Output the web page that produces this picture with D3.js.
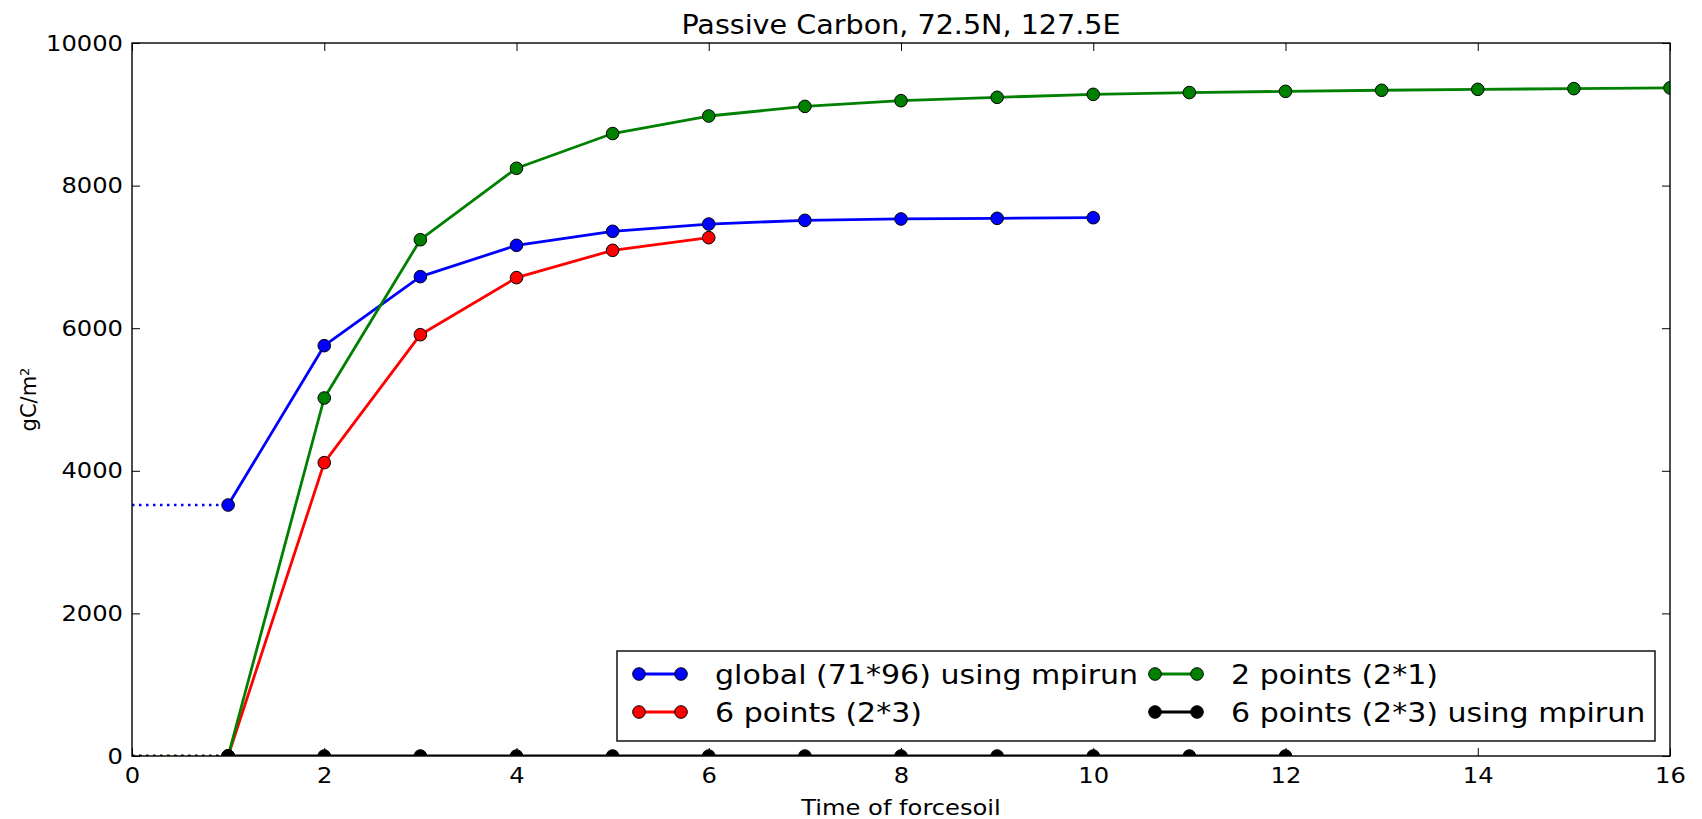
<!DOCTYPE html>
<html>
<head>
<meta charset="utf-8">
<script src="https://cdn.jsdelivr.net/npm/d3@7"></script>
<style>
  body { margin: 0; background: #ffffff; }
  text { font-family: "DejaVu Sans", sans-serif; }
</style>
</head>
<body>
<div id="canvas"></div>
<script>
"use strict"

/* Data */
let xTicks = [0, 2, 4, 6, 8, 10, 12, 14, 16];
let yTicks = [0, 2000, 4000, 6000, 8000, 10000];

let globalX = [1, 2, 3, 4, 5, 6, 7, 8, 9, 10];
let globalY = [3520, 5755, 6723, 7162, 7359, 7461, 7513, 7532, 7541, 7550];

let sixX = [1, 2, 3, 4, 5, 6];
let sixY = [0, 4114, 5909, 6709, 7092, 7270];

let twoX = [1, 2, 3, 4, 5, 6, 7, 8, 9, 10, 11, 12, 13, 14, 15, 16];
let twoY = [0, 5021, 7241, 8243, 8730, 8976, 9111, 9191, 9238, 9280, 9305, 9322, 9337, 9350, 9360, 9370];

let sixMpiX = [1, 2, 3, 4, 5, 6, 7, 8, 9, 10, 11, 12];
let sixMpiY = [0, 0, 0, 0, 0, 0, 0, 0, 0, 0, 0, 0];

let seriesNames = [
    "global (71*96) using mpirun",
    "6 points (2*3)",
    "2 points (2*1)",
    "6 points (2*3) using mpirun"
];
let seriesColors = ["#0000ff", "#ff0000", "#008000", "#000000"];

/* Build the series list from the arrays above */
let series = [
    { name: seriesNames[0], color: seriesColors[0], xs: globalX, ys: globalY },
    { name: seriesNames[1], color: seriesColors[1], xs: sixX, ys: sixY },
    { name: seriesNames[2], color: seriesColors[2], xs: twoX, ys: twoY },
    { name: seriesNames[3], color: seriesColors[3], xs: sixMpiX, ys: sixMpiY }
];

/* Drawing config */
let svgWidth = 1702;
let svgHeight = 819;
let margin = { top: 43, right: 32, bottom: 63, left: 132 };
let chartWidth = svgWidth - margin.left - margin.right;
let chartHeight = svgHeight - margin.top - margin.bottom;
let textStretch = 1.1; // the original's glyphs are a bit wider than DejaVu at the same height
let lineWidth = 2.8;
let markerR = 6.3;

let svg = d3.select("#canvas")
    .append("svg")
    .attr("width", svgWidth)
    .attr("height", svgHeight);

/* Move a text's x/y into a transform so it can be stretched sideways */
function stretchText(sel) {
    sel.each(function() {
        let t = d3.select(this);
        let x = +t.attr("x") || 0;
        let y = +t.attr("y") || 0;
        t.attr("x", 0).attr("y", 0)
            .attr("transform", "translate(" + x + "," + y + ") scale(" + textStretch + ",1)");
    });
}

let xScale = d3.scaleLinear()
    .domain([0, 16])
    .range([margin.left, margin.left + chartWidth]);

let yScale = d3.scaleLinear()
    .domain([0, 10000])
    .range([margin.top + chartHeight, margin.top]);

// clip so markers on the edges are cut like in the original
svg.append("clipPath")
    .attr("id", "plotClip")
    .append("rect")
    .attr("x", margin.left)
    .attr("y", margin.top)
    .attr("width", chartWidth)
    .attr("height", chartHeight);

let plot = svg.append("g").attr("clip-path", "url(#plotClip)");

let line = d3.line()
    .x(function(d) { return xScale(d[0]); })
    .y(function(d) { return yScale(d[1]); });

/* Lines, dotted lead-in from x=0, and markers */
series.forEach(function(s) {
    let pts = s.xs.map(function(x, i) { return [x, s.ys[i]]; });

    plot.append("path")
        .attr("d", line([[0, s.ys[0]], pts[0]]))
        .attr("fill", "none")
        .attr("stroke", s.color)
        .attr("stroke-width", 2.5)
        .attr("stroke-dasharray", "2.5,4.5");

    plot.append("path")
        .attr("d", line(pts))
        .attr("fill", "none")
        .attr("stroke", s.color)
        .attr("stroke-width", lineWidth)
        .attr("stroke-linejoin", "round");

    plot.selectAll(null)
        .data(pts)
        .join("circle")
        .attr("cx", function(d) { return xScale(d[0]); })
        .attr("cy", function(d) { return yScale(d[1]); })
        .attr("r", markerR)
        .attr("fill", s.color)
        .attr("stroke", "black")
        .attr("stroke-width", 1);
});

/* Axes: inward ticks on all four sides */
svg.append("g")
    .attr("transform", "translate(0," + (margin.top + chartHeight) + ")")
    .call(d3.axisBottom(xScale).tickValues(xTicks).tickSize(-8).tickPadding(11));
svg.append("g")
    .attr("transform", "translate(" + margin.left + ",0)")
    .call(d3.axisLeft(yScale).tickValues(yTicks).tickFormat(d3.format("d")).tickSize(-8).tickPadding(9));
svg.append("g")
    .attr("transform", "translate(0," + margin.top + ")")
    .call(d3.axisTop(xScale).tickValues(xTicks).tickSize(-8).tickFormat(""));
svg.append("g")
    .attr("transform", "translate(" + (margin.left + chartWidth) + ",0)")
    .call(d3.axisRight(yScale).tickValues(yTicks).tickSize(-8).tickFormat(""));

svg.selectAll(".domain").remove();
svg.selectAll(".tick line").attr("stroke", "black").attr("stroke-width", 1);
svg.selectAll(".tick text")
    .attr("fill", "black")
    .style("font-family", "DejaVu Sans")
    .style("font-size", "22px")
    .call(stretchText);

// plot frame
svg.append("rect")
    .attr("x", margin.left)
    .attr("y", margin.top)
    .attr("width", chartWidth)
    .attr("height", chartHeight)
    .attr("fill", "none")
    .attr("stroke", "black")
    .attr("stroke-width", 1.4);

/* Title and axis labels */
svg.append("text")
    .attr("x", margin.left + chartWidth / 2)
    .attr("y", 34)
    .attr("text-anchor", "middle")
    .style("font-size", "26px")
    .text("Passive Carbon, 72.5N, 127.5E")
    .call(stretchText);

svg.append("text")
    .attr("x", margin.left + chartWidth / 2)
    .attr("y", 815)
    .attr("text-anchor", "middle")
    .style("font-size", "22px")
    .text("Time of forcesoil")
    .call(stretchText);

let yLabel = svg.append("text")
    .attr("transform", "translate(36," + (margin.top + chartHeight / 2) + ") rotate(-90)")
    .attr("text-anchor", "middle")
    .style("font-size", "21px");
yLabel.append("tspan").text("gC/m");
yLabel.append("tspan")
    .attr("baseline-shift", "super")
    .style("font-size", "13px")
    .text("2");

/* Legend, two columns filled column first */
let legendBox = { x: 617, y: 651, width: 1038, height: 90 };
let legendRows = [674, 712];
let legendCols = [639, 1155];

svg.append("rect")
    .attr("x", legendBox.x)
    .attr("y", legendBox.y)
    .attr("width", legendBox.width)
    .attr("height", legendBox.height)
    .attr("fill", "white")
    .attr("stroke", "black")
    .attr("stroke-width", 1.4);

series.forEach(function(s, i) {
    let col = Math.floor(i / 2);
    let row = i % 2;
    let lx = legendCols[col];
    let ly = legendRows[row];

    svg.append("line")
        .attr("x1", lx)
        .attr("x2", lx + 42)
        .attr("y1", ly)
        .attr("y2", ly)
        .attr("stroke", s.color)
        .attr("stroke-width", lineWidth);

    [lx, lx + 42].forEach(function(cx) {
        svg.append("circle")
            .attr("cx", cx)
            .attr("cy", ly)
            .attr("r", markerR)
            .attr("fill", s.color)
            .attr("stroke", "black")
            .attr("stroke-width", 1);
    });

    svg.append("text")
        .attr("x", lx + 76)
        .attr("y", ly)
        .attr("dy", "0.36em")
        .style("font-size", "27.3px")
        .text(s.name)
        .call(stretchText);
});
</script>
</body>
</html>
